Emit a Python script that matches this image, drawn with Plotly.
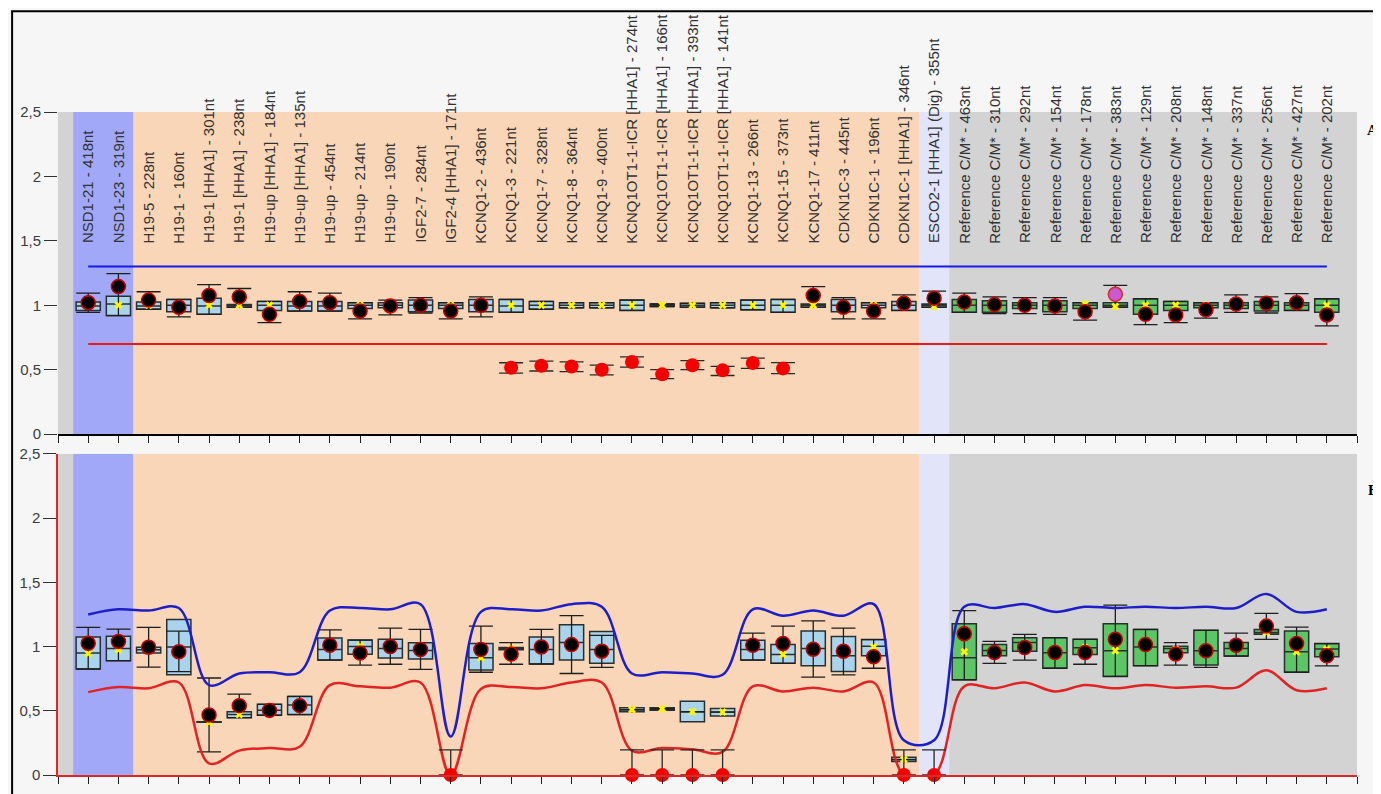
import plotly.graph_objects as go

labels = [
    "NSD1-21 - 418nt", "NSD1-23 - 319nt", "H19-5 - 228nt", "H19-1 - 160nt",
    "H19-1 [HHA1] - 301nt", "H19-1 [HHA1] - 238nt", "H19-up [HHA1] - 184nt",
    "H19-up [HHA1] - 135nt", "H19-up - 454nt", "H19-up - 214nt", "H19-up - 190nt",
    "IGF2-7 - 284nt", "IGF2-4 [HHA1] - 171nt", "KCNQ1-2 - 436nt", "KCNQ1-3 - 221nt",
    "KCNQ1-7 - 328nt", "KCNQ1-8 - 364nt", "KCNQ1-9 - 400nt",
    "KCNQ1OT1-1-ICR [HHA1] - 274nt", "KCNQ1OT1-1-ICR [HHA1] - 166nt",
    "KCNQ1OT1-1-ICR [HHA1] - 393nt", "KCNQ1OT1-1-ICR [HHA1] - 141nt",
    "KCNQ1-13 - 266nt", "KCNQ1-15 - 373nt", "KCNQ1-17 - 411nt", "CDKN1C-3 - 445nt",
    "CDKN1C-1 - 196nt", "CDKN1C-1 [HHA1] - 346nt", "ESCO2-1 [HHA1] (Dig) - 355nt",
    "Reference C/M* - 463nt", "Reference C/M* - 310nt", "Reference C/M* - 292nt",
    "Reference C/M* - 154nt", "Reference C/M* - 178nt", "Reference C/M* - 383nt",
    "Reference C/M* - 129nt", "Reference C/M* - 208nt", "Reference C/M* - 148nt",
    "Reference C/M* - 337nt", "Reference C/M* - 256nt", "Reference C/M* - 427nt",
    "Reference C/M* - 202nt",
]
positions = list(range(1, 43))
n_test = 29  # first 29 probes are test probes (blue boxes), rest reference (green)

# ---------------- Panel A ----------------
A_q1 = [0.96, 0.92, 0.97, 0.95, 0.93, 0.985, 0.96, 0.955, 0.955, 0.975, 0.98, 0.95, 0.975, 0.95,
        0.945, 0.97, 0.98, 0.98, 0.96, 0.99, 0.985, 0.98, 0.965, 0.945, 0.985, 0.95, 0.98, 0.96, 0.985,
        0.945, 0.945, 0.975, 0.95, 0.975, 0.985, 0.93, 0.96, 0.98, 0.975, 0.955, 0.96, 0.945]
A_med = [0.995, 1.01, 0.995, 1.0, 0.995, 1.0, 1.0, 0.995, 0.995, 1.0, 1.0, 1.0, 1.0, 1.0,
         0.995, 1.0, 1.0, 1.0, 1.0, 1.0, 1.0, 1.0, 1.0, 1.0, 1.0, 1.0, 1.0, 1.0, 1.0,
         1.0, 1.0, 1.0, 1.0, 1.0, 1.0, 1.0, 1.0, 1.0, 1.0, 1.0, 1.0, 1.0]
A_q3 = [1.025, 1.07, 1.025, 1.045, 1.055, 1.005, 1.03, 1.03, 1.03, 1.02, 1.02, 1.04, 1.02, 1.045,
        1.045, 1.03, 1.02, 1.02, 1.04, 1.01, 1.015, 1.02, 1.04, 1.045, 1.01, 1.045, 1.02, 1.03, 1.01,
        1.045, 1.035, 1.02, 1.035, 1.02, 1.02, 1.05, 1.03, 1.02, 1.02, 1.03, 1.02, 1.05]
A_lo = [0.945, 0.92, 0.97, 0.91, 0.93, 0.985, 0.865, 0.955, 0.955, 0.895, 0.925, 0.94, 0.895, 0.91,
        0.945, 0.97, 0.98, 0.98, 0.96, 0.99, 0.985, 0.98, 0.965, 0.945, 0.985, 0.895, 0.895, 0.96, 0.985,
        0.945, 0.935, 0.935, 0.93, 0.885, 0.985, 0.85, 0.865, 0.9, 0.945, 0.94, 0.96, 0.84]
A_hi = [1.095, 1.245, 1.105, 1.045, 1.16, 1.13, 1.03, 1.105, 1.095, 1.02, 1.04, 1.06, 1.02, 1.065,
        1.045, 1.03, 1.02, 1.02, 1.04, 1.01, 1.015, 1.02, 1.04, 1.045, 1.145, 1.06, 1.02, 1.08, 1.11,
        1.095, 1.065, 1.06, 1.06, 1.02, 1.155, 1.05, 1.03, 1.02, 1.08, 1.065, 1.09, 1.05]
A_mean = [1.0] * 28 + [0.99] + [1.0, 1.0, 1.0, 1.0, 1.01, 0.99, 1.0, 1.0, 1.0, 1.0, 1.0, 1.0, 1.0]
A_sample = [1.02, 1.145, 1.04, 0.985, 1.075, 1.065, 0.93, 1.03, 1.02, 0.955, 0.995, 1.0, 0.955, 1.0,
            None, None, None, None, None, None, None, None, None, None,
            1.075, 0.985, 0.955, 1.015, 1.055,
            1.025, 1.005, 1.0, 0.995, 0.95, None, 0.93, 0.925, 0.965, 1.01, 1.015, 1.02, 0.925]
# aberrant (loss) samples in panel A
A_loss_pos = [15, 16, 17, 18, 19, 20, 21, 22, 23, 24]
A_loss_val = [0.515, 0.53, 0.525, 0.5, 0.56, 0.465, 0.535, 0.495, 0.552, 0.51]
A_loss_lo = [0.473, 0.49, 0.485, 0.46, 0.52, 0.43, 0.5, 0.455, 0.51, 0.47]
A_loss_hi = [0.554, 0.566, 0.56, 0.535, 0.6, 0.5, 0.57, 0.525, 0.59, 0.555]
# flagged sample (purple) in panel A
A_flag_pos = [35]
A_flag_val = [1.085]
A_upper = 1.3
A_lower = 0.7

# ---------------- Panel B ----------------
B_q1 = [0.825, 0.89, 0.95, 0.78, 0.41, 0.446, 0.465, 0.47, 0.895, 0.94, 0.91, 0.903, None, 0.818,
        0.975, 0.864, 0.895, 0.869, 0.492, 0.505, 0.415, 0.459, 0.895, 0.869, 0.851, 0.805, 0.928, 0.105, None,
        0.741, 0.928, 0.964, 0.831, 0.938, 0.767, 0.851, 0.951, 0.856, 0.926, 1.095, 0.8, 0.921]
B_med = [0.95, 0.985, 0.975, 0.997, 0.41, 0.47, 0.505, 0.545, 0.977, 1.0, 0.985, 0.97, None, 0.913,
         0.985, 0.977, 1.031, 0.977, 0.508, 0.515, 0.492, 0.49, 0.977, 0.938, 0.985, 0.928, 1.003, 0.12, None,
         0.913, 0.97, 1.031, 0.951, 0.99, 0.967, 0.997, 0.985, 0.967, 0.985, 1.11, 0.959, 0.98]
B_q3 = [1.075, 1.08, 0.995, 1.21, 0.415, 0.492, 0.55, 0.612, 1.067, 1.05, 1.056, 1.03, None, 1.023,
        0.992, 1.074, 1.169, 1.118, 0.523, 0.523, 0.574, 0.518, 1.049, 1.015, 1.121, 1.079, 1.054, 0.138, None,
        1.177, 1.015, 1.069, 1.069, 1.056, 1.177, 1.133, 1.003, 1.126, 1.031, 1.133, 1.121, 1.023]
B_lo = [0.825, 0.89, 0.84, 0.805, 0.18, 0.446, 0.465, 0.47, 0.895, 0.856, 0.862, 0.823, None, 0.8,
        0.862, 0.864, 0.79, 0.838, 0.508, 0.515, 0.492, 0.49, 0.895, 0.869, 0.762, 0.779, 0.831, 0.12, None,
        0.741, 0.869, 0.895, 0.831, 0.862, 0.767, 0.851, 0.856, 0.838, 0.926, 1.056, 0.8, 0.849]
B_hi = [1.15, 1.135, 1.15, 1.12, 0.755, 0.63, 0.55, 0.612, 1.13, 1.05, 1.144, 1.133, None, 1.159,
        1.031, 1.133, 1.241, 1.087, 0.508, 0.515, 0.492, 0.49, 1.105, 1.159, 1.2, 1.144, 1.054, 0.12, None,
        1.279, 1.041, 1.095, 1.069, 1.056, 1.323, 1.133, 1.031, 1.126, 1.105, 1.259, 1.151, 1.023]
B_mean = [0.945, 0.975, 0.98, 0.98, 0.41, 0.47, 0.505, 0.545, 0.99, 1.005, 0.99, 0.97, None, 0.913,
          0.985, 0.985, 1.02, 0.97, 0.508, 0.515, 0.492, 0.49, 0.99, 0.938, 0.985, 0.95, 0.997, 0.12, None,
          0.959, 0.97, 1.0, 0.951, 0.99, 0.967, 0.997, 0.98, 0.967, 0.985, 1.11, 0.959, 0.98]
B_sample = [1.025, 1.04, 0.995, 0.96, 0.467, 0.54, 0.503, 0.54, 1.01, 0.95, 1.0, 0.977, None, 0.977,
            0.941, 0.997, 1.015, 0.964, None, None, None, None, 1.01, 1.023, 0.979, 0.964, 0.921, None, None,
            1.1, 0.954, 0.992, 0.954, 0.954, 1.056, 1.015, 0.941, 0.967, 1.01, 1.159, 1.023, 0.928]
B_loss_pos = [13, 19, 20, 21, 22, 28, 29]
B_loss_val = [0.0, 0.0, 0.0, 0.0, 0.0, 0.0, 0.0]
B_loss_hi = [0.195, 0.195, 0.195, 0.195, 0.195, 0.195, 0.195]
B_upper = [1.25, 1.29, 1.28, 1.30, 0.70, 0.79, 0.80, 0.80, 1.28, 1.30, 1.29, 1.33, 0.30, 1.27,
           1.29, 1.28, 1.33, 1.31, 0.79, 0.80, 0.79, 0.78, 1.29, 1.24, 1.28, 1.24, 1.33, 0.27, 0.27,
           1.31, 1.30, 1.33, 1.27, 1.31, 1.30, 1.31, 1.30, 1.31, 1.30, 1.41, 1.27, 1.29]
B_lower = [0.645, 0.685, 0.675, 0.72, 0.09, 0.19, 0.21, 0.22, 0.70, 0.69, 0.68, 0.72, 0.0, 0.67,
           0.685, 0.675, 0.72, 0.72, 0.19, 0.21, 0.20, 0.18, 0.69, 0.65, 0.68, 0.65, 0.72, 0.0, 0.0,
           0.69, 0.675, 0.72, 0.65, 0.70, 0.675, 0.70, 0.68, 0.69, 0.68, 0.815, 0.66, 0.675]

# background regions (start, end, colour) in category units
bands = [(0, 0.5, "rgb(211,211,211)"), (0.5, 2.5, "rgb(161,168,248)"),
         (2.5, 28.5, "rgb(248,214,183)"), (28.5, 29.5, "rgb(226,228,250)"),
         (29.5, 43, "rgb(211,211,211)")]

BLUE_FILL = "rgb(170,212,236)"
GREEN_FILL = "rgb(92,198,102)"
BOX_LINE = "rgb(40,48,48)"

fig = go.Figure()


def sub(lst, idx):
    return [lst[i] for i in idx]


def add_panel(xa, ya, q1, med, q3, lo, hi, mean, sample):
    groups = [(list(range(0, n_test)), BLUE_FILL), (list(range(n_test, 42)), GREEN_FILL)]
    for idx, fill in groups:
        idx = [i for i in idx if q1[i] is not None]
        fig.add_trace(go.Box(
            x=[positions[i] for i in idx], q1=sub(q1, idx), median=sub(med, idx), q3=sub(q3, idx),
            lowerfence=sub(q1, idx), upperfence=sub(q3, idx), width=0.8,
            fillcolor=fill, line=dict(color=BOX_LINE, width=1.5), boxpoints=False,
            xaxis=xa, yaxis=ya, hoverinfo="skip", showlegend=False))
    # whiskers with caps
    idx = [i for i in range(42) if med[i] is not None]
    fig.add_trace(go.Scatter(
        x=[positions[i] for i in idx], y=sub(med, idx), mode="markers",
        marker=dict(size=1, color="rgba(0,0,0,0)"),
        error_y=dict(type="data", symmetric=False,
                     array=[hi[i] - med[i] for i in idx],
                     arrayminus=[med[i] - lo[i] for i in idx],
                     color="rgb(30,30,30)", thickness=1.3, width=12),
        xaxis=xa, yaxis=ya, hoverinfo="skip", showlegend=False))
    # means
    fig.add_trace(go.Scatter(
        x=positions, y=mean, mode="markers",
        marker=dict(symbol="x", size=7, color="rgb(255,245,0)", line=dict(width=0)),
        xaxis=xa, yaxis=ya, hoverinfo="skip", showlegend=False))
    # sample values
    fig.add_trace(go.Scatter(
        x=positions, y=sample, mode="markers",
        marker=dict(size=14, color="black", line=dict(color="rgb(200,0,0)", width=1.5)),
        xaxis=xa, yaxis=ya, hoverinfo="skip", showlegend=False, cliponaxis=False))


add_panel("x", "y", A_q1, A_med, A_q3, A_lo, A_hi, A_mean, A_sample)
fig.add_trace(go.Scatter(
    x=A_loss_pos, y=A_loss_val, mode="markers",
    marker=dict(size=14, color="rgb(245,0,0)", line=dict(width=0)),
    error_y=dict(type="data", symmetric=False,
                 array=[h - v for h, v in zip(A_loss_hi, A_loss_val)],
                 arrayminus=[v - l for v, l in zip(A_loss_val, A_loss_lo)],
                 color="rgb(40,40,40)", thickness=1.3, width=12),
    xaxis="x", yaxis="y", hoverinfo="skip", showlegend=False))
fig.add_trace(go.Scatter(
    x=A_flag_pos, y=A_flag_val, mode="markers",
    marker=dict(size=14, color="rgb(200,90,210)", line=dict(color="rgb(220,40,40)", width=1.5)),
    xaxis="x", yaxis="y", hoverinfo="skip", showlegend=False))
fig.add_trace(go.Scatter(x=positions, y=[A_upper] * 42, mode="lines",
                         line=dict(color="rgb(25,25,235)", width=2),
                         xaxis="x", yaxis="y", hoverinfo="skip", showlegend=False))
fig.add_trace(go.Scatter(x=positions, y=[A_lower] * 42, mode="lines",
                         line=dict(color="rgb(235,25,25)", width=2),
                         xaxis="x", yaxis="y", hoverinfo="skip", showlegend=False))

add_panel("x2", "y2", B_q1, B_med, B_q3, B_lo, B_hi, B_mean, B_sample)
fig.add_trace(go.Scatter(x=positions, y=B_upper, mode="lines",
                         line=dict(color="rgb(30,30,200)", width=2.5, shape="spline", smoothing=1.0),
                         xaxis="x2", yaxis="y2", hoverinfo="skip", showlegend=False))
fig.add_trace(go.Scatter(x=positions, y=B_lower, mode="lines",
                         line=dict(color="rgb(225,35,35)", width=2.5, shape="spline", smoothing=1.0),
                         xaxis="x2", yaxis="y2", hoverinfo="skip", showlegend=False))
fig.add_trace(go.Scatter(
    x=B_loss_pos, y=B_loss_val, mode="markers",
    marker=dict(size=14, color="rgb(245,0,0)", line=dict(width=0)),
    error_y=dict(type="data", symmetric=False, array=B_loss_hi,
                 arrayminus=[0] * len(B_loss_pos), color="rgb(40,40,40)", thickness=1.3, width=12),
    xaxis="x2", yaxis="y2", hoverinfo="skip", showlegend=False, cliponaxis=False))

# page has an 8px body margin: work in page pixels, convert to figure pixels
OFF = 8
FIG_W, FIG_H = 1381 - OFF, 794 - OFF
L, R, T, B = 55 - OFF, 1357 - OFF, 112 - OFF, 783 - OFF
W, H = R - L, B - T


def px(x):  # page x -> paper
    return (x - OFF - L) / W


def py(y):  # page y -> paper
    return (B - (y - OFF)) / H


shapes = [
    dict(type="line", xref="paper", yref="paper", x0=px(8), x1=px(1400), y0=py(10), y1=py(10),
         line=dict(color="black", width=2)),
    dict(type="line", xref="paper", yref="paper", x0=px(9), x1=px(9), y0=py(10), y1=py(810),
         line=dict(color="black", width=2)),
]
for xr, yr in (("x", "y"), ("x2", "y2")):
    for x0, x1, c in bands:
        shapes.append(dict(type="rect", xref=xr, yref=yr, x0=x0, x1=x1, y0=0, y1=2.5,
                           fillcolor=c, line=dict(width=0), layer="below"))

annotations = []
for p, lab in zip(positions, labels):
    annotations.append(dict(x=p, y=1.465, xref="x", yref="y", text=lab, textangle=-90,
                            showarrow=False, xanchor="center", yanchor="bottom",
                            font=dict(family="Arial, Liberation Sans", size=15, color="rgb(50,50,50)")))
annotations.append(dict(x=px(1380), y=py(130), xref="paper", yref="paper", text="<b>A</b>",
                        showarrow=False, xanchor="right", yanchor="middle",
                        font=dict(family="Liberation Serif, Times New Roman", size=15, color="black")))
annotations.append(dict(x=px(1380), y=py(495), xref="paper", yref="paper", text="<b>B</b>",
                        showarrow=False, xanchor="right", yanchor="middle",
                        font=dict(family="Liberation Serif, Times New Roman", size=15, color="black")))

yax_common = dict(range=[0, 2.5], dtick=0.5, tick0=0, ticks="outside", ticklen=13,
                  tickcolor="rgb(50,50,50)", showgrid=False, zeroline=False,
                  tickfont=dict(family="Arial, Liberation Sans", size=15, color="rgb(60,60,60)"))
xax_common = dict(range=[0, 43], dtick=1, tick0=0, ticks="outside", ticklen=7,
                  tickcolor="rgb(30,30,30)", showticklabels=False, showgrid=False, zeroline=False)

fig.update_layout(
    width=FIG_W, height=FIG_H,
    margin=dict(l=L, r=FIG_W - R, t=T, b=FIG_H - B, pad=0),
    paper_bgcolor="rgb(246,246,246)", plot_bgcolor="rgba(0,0,0,0)",
    separators=", ",
    boxmode="overlay",
    showlegend=False,
    xaxis=dict(domain=[0, 1], anchor="y", showline=True, linecolor="black", linewidth=1.5, **xax_common),
    yaxis=dict(domain=[py(438), 1], anchor="x", showline=False, **yax_common),
    xaxis2=dict(domain=[0, 1], anchor="y2", showline=True, linecolor="rgb(220,40,40)", linewidth=1.5,
                **xax_common),
    yaxis2=dict(domain=[0, py(458)], anchor="x2", showline=True, linecolor="rgb(220,40,40)",
                linewidth=1.5, **yax_common),
    shapes=shapes,
    annotations=annotations,
)

fig.write_html("out.html")
